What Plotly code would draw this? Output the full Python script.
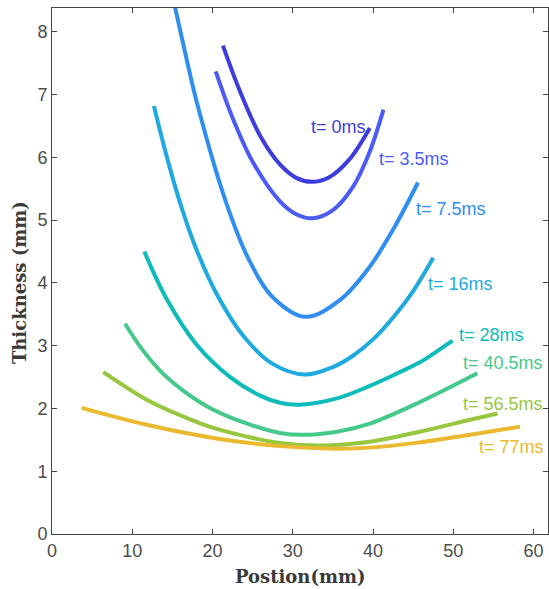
import plotly.graph_objects as go

# ---- data ----
labels = ["t= 0ms", "t= 3.5ms", "t= 7.5ms", "t= 16ms", "t= 28ms", "t= 40.5ms", "t= 56.5ms", "t= 77ms"]
colors = ["#3d3ddd", "#4a5cf5", "#2f8ef0", "#1ea9df", "#0dbbbb", "#45c98b", "#96c73e", "#ebb92f"]

x_t0 = [21.3, 23.4, 26.0, 28.4, 30.5, 32.4, 34.5, 37.0, 39.6]
y_t0 = [7.78, 7.06, 6.33, 5.89, 5.67, 5.61, 5.68, 5.96, 6.47]

x_t35 = [20.4, 22.5, 25.0, 28.4, 30.5, 32.5, 35.0, 37.5, 39.5, 41.3]
y_t35 = [7.37, 6.63, 5.93, 5.30, 5.09, 5.03, 5.16, 5.53, 6.06, 6.76]

x_t75 = [15.0, 16.5, 18.0, 21.7, 24.5, 27.6, 31.6, 35.9, 39.6, 42.5, 45.6]
y_t75 = [8.58, 7.72, 6.90, 5.28, 4.38, 3.76, 3.46, 3.73, 4.26, 4.85, 5.60]

x_t16 = [12.7, 14.2, 15.9, 18.0, 20.7, 24.0, 27.5, 31.5, 35.0, 37.5, 40.0, 42.5, 45.0, 47.5]
y_t16 = [6.82, 6.06, 5.30, 4.53, 3.78, 3.13, 2.71, 2.54, 2.66, 2.84, 3.10, 3.45, 3.87, 4.40]

x_t28 = [11.5, 14.3, 18.0, 22.2, 26.0, 28.4, 30.9, 35.5, 39.6, 42.7, 45.9, 47.5, 49.9]
y_t28 = [4.50, 3.74, 3.02, 2.50, 2.20, 2.09, 2.06, 2.16, 2.36, 2.54, 2.74, 2.87, 3.08]

x_t405 = [9.1, 11.3, 13.8, 16.5, 20.1, 24.5, 28.4, 31.3, 35.5, 39.6, 45.8, 53.0]
y_t405 = [3.35, 2.93, 2.56, 2.27, 1.98, 1.75, 1.61, 1.58, 1.63, 1.76, 2.10, 2.56]

x_t565 = [6.4, 11.8, 16.0, 20.1, 24.0, 28.4, 33.4, 39.6, 45.8, 52.1, 55.5]
y_t565 = [2.58, 2.14, 1.89, 1.69, 1.56, 1.45, 1.41, 1.47, 1.63, 1.82, 1.92]

x_t77 = [3.7, 11.8, 20.1, 28.4, 35.5, 40.0, 45.8, 52.1, 58.3]
y_t77 = [2.01, 1.74, 1.53, 1.40, 1.36, 1.38, 1.46, 1.58, 1.71]

label_x = [32.0, 40.5, 45.1, 46.6, 50.5, 51.0, 51.0, 53.0]
label_y = [6.48, 5.97, 5.17, 3.98, 3.17, 2.72, 2.07, 1.38]

x_ticks = [0, 10, 20, 30, 40, 50, 60]
y_ticks = [0, 1, 2, 3, 4, 5, 6, 7, 8]

series_x = [x_t0, x_t35, x_t75, x_t16, x_t28, x_t405, x_t565, x_t77]
series_y = [y_t0, y_t35, y_t75, y_t16, y_t28, y_t405, y_t565, y_t77]

fig = go.Figure()
for xs, ys, c, name in zip(series_x, series_y, colors, labels):
    fig.add_trace(go.Scatter(x=xs, y=ys, mode="lines", name=name,
                             line=dict(color=c, width=4, shape="spline", smoothing=1.0),
                             showlegend=False))

annos = []
for lx, ly, c, t in zip(label_x, label_y, colors, labels):
    annos.append(dict(x=lx, y=ly, xref="x", yref="y", text=t, showarrow=False,
                      xanchor="left", yanchor="middle",
                      font=dict(family="Liberation Sans, Arial, sans-serif", size=18, color=c)))

title_font = dict(family="DejaVu Serif, serif", size=18, color="#3a3a3a")
annos.append(dict(x=0.5, y=-0.0817, xref="paper", yref="paper", text="<b>Postion(mm)</b>",
                  showarrow=False, xanchor="center", yanchor="middle", font=title_font))
annos.append(dict(x=-0.0665, y=0.477, xref="paper", yref="paper", text="<b>Thickness (mm)</b>",
                  showarrow=False, xanchor="center", yanchor="middle", textangle=-90, font=title_font))

axis_common = dict(showline=True, linecolor="#444444", linewidth=1, mirror="ticks",
                   ticks="inside", ticklen=5, tickcolor="#444444", showgrid=False, zeroline=False,
                   tickfont=dict(family="Liberation Sans, Arial, sans-serif", size=18, color="#4d4d4d"),
                   automargin=False)

fig.update_layout(
    width=549, height=589,
    margin=dict(l=52, r=1, t=8, b=55),
    paper_bgcolor="white", plot_bgcolor="white",
    xaxis=dict(range=[0, 61.8], tickvals=x_ticks, **axis_common),
    yaxis=dict(range=[0, 8.38], tickvals=y_ticks, **axis_common),
    annotations=annos,
)

fig.write_html("out.html", config={"displayModeBar": False},
               post_script="document.body.style.margin='0px';document.body.style.overflow='hidden';")
